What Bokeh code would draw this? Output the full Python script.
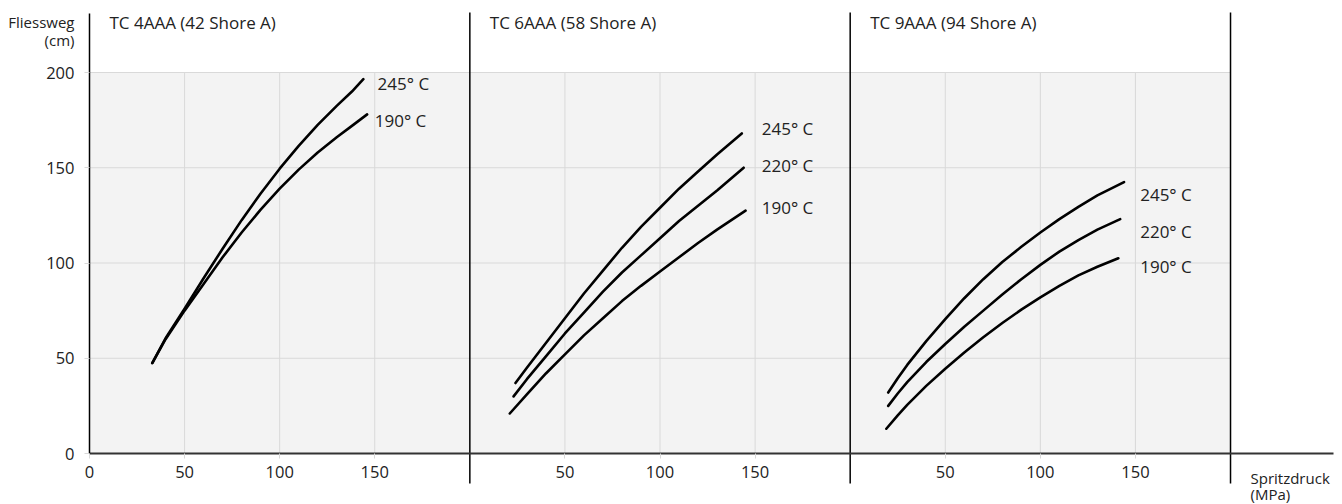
from bokeh.plotting import figure
from bokeh.models import Range1d, FixedTicker, BoxAnnotation, Label, ColumnDataSource
from bokeh.core.properties import value
from bokeh.embed import file_html
from bokeh.resources import INLINE

# ---------------- data ----------------
panel_titles = ["TC 4AAA (42 Shore A)", "TC 6AAA (58 Shore A)", "TC 9AAA (94 Shore A)"]
panel_offsets = [0, 200, 400]
panel_width = 200
x_tick_values = [0, 50, 100, 150, 250, 300, 350, 450, 500, 550]
x_tick_labels = ["0", "50", "100", "150", "50", "100", "150", "50", "100", "150"]
y_tick_values = [0, 50, 100, 150, 200]
y_max = 200

# TC 4AAA
tc4_245_x = [33, 40, 50, 60, 70, 80, 90, 100, 110, 120, 130, 138, 144]
tc4_245_y = [47.5, 60.5, 76, 92, 107.5, 122.5, 136.5, 149.5, 161.5, 172.5, 182.5, 190, 196.5]
tc4_190_x = [33, 40, 50, 60, 70, 80, 90, 100, 110, 120, 130, 138, 146]
tc4_190_y = [47.5, 60, 75, 89, 103, 116, 128, 139, 149, 158, 166, 172, 178]

# TC 6AAA
tc6_245_x = [24, 30, 40, 50, 60, 70, 80, 90, 100, 110, 120, 130, 143]
tc6_245_y = [37, 45, 58, 71, 84, 96, 108, 119, 129, 139, 148, 157, 168]
tc6_220_x = [23, 30, 40, 50, 60, 70, 80, 90, 100, 110, 120, 130, 144]
tc6_220_y = [30, 39, 51, 63, 74, 85, 95, 104, 113, 122, 130, 138, 150]
tc6_190_x = [21, 30, 40, 50, 60, 70, 80, 90, 100, 110, 120, 130, 145]
tc6_190_y = [21, 31, 42, 52, 62, 71, 80, 88, 95.5, 103, 110.5, 117.5, 127.5]

# TC 9AAA
tc9_245_x = [20, 25, 30, 40, 50, 60, 70, 80, 90, 100, 110, 120, 130, 144]
tc9_245_y = [32, 39.5, 46.5, 59, 70.5, 81.5, 91.5, 100.5, 108.5, 116, 123, 129.5, 135.5, 142.5]
tc9_220_x = [20, 25, 30, 40, 50, 60, 70, 80, 90, 100, 110, 120, 130, 142]
tc9_220_y = [25, 31.5, 37.5, 48, 57.5, 66.5, 75, 83.5, 91.5, 99, 106, 112, 117.5, 123]
tc9_190_x = [19, 25, 30, 40, 50, 60, 70, 80, 90, 100, 110, 120, 130, 141]
tc9_190_y = [13, 20, 25.5, 35.5, 44.5, 53, 61, 68.5, 75.5, 82, 88, 93.5, 98, 102.5]

curve_labels = ["245° C", "190° C",
                "245° C", "220° C", "190° C",
                "245° C", "220° C", "190° C"]
curve_panels = [0, 0, 1, 1, 1, 2, 2, 2]
curves_x = [tc4_245_x, tc4_190_x, tc6_245_x, tc6_220_x, tc6_190_x, tc9_245_x, tc9_220_x, tc9_190_x]
curves_y = [tc4_245_y, tc4_190_y, tc6_245_y, tc6_220_y, tc6_190_y, tc9_245_y, tc9_220_y, tc9_190_y]

# label anchors (panel-local)
label_x = [151.5, 150, 153.5, 153.5, 153.5, 152.5, 152.5, 152.5]
label_y = [194, 175, 170.5, 151, 129, 136, 116.5, 98]

# ---------------- layout / style ----------------
W, H = 1342, 504
X0_PX, Y0_PX = 89, 453          # pixel position of the data origin
SX, SY = 1.9017, 1.905          # pixels per unit
FONT = "Open Sans"
TXT = "#222222"
GRID = "#d9d9d9"
BG = "#f3f3f3"

x_start = -X0_PX / SX
x_end = (W - X0_PX) / SX
y_start = -(H - Y0_PX) / SY
y_end = Y0_PX / SY
divider_top = (Y0_PX - 12) / SY
divider_bottom = (Y0_PX - 483) / SY
axis_right = (1333 - X0_PX) / SX

p = figure(width=W, height=H, output_backend="svg", toolbar_location=None,
           x_range=Range1d(x_start, x_end), y_range=Range1d(y_start, y_end),
           min_border_left=0, min_border_right=0, min_border_top=0, min_border_bottom=0)
p.outline_line_color = None
p.background_fill_color = "white"
p.xgrid.grid_line_color = None
p.ygrid.grid_line_color = None

# plotting background
p.add_layout(BoxAnnotation(left=0, right=panel_offsets[-1] + panel_width, bottom=0, top=y_max,
                           fill_color=BG, fill_alpha=1, line_color=None, level="underlay"))

# grid lines
gx = [t for t in x_tick_values if t % panel_width != 0]
p.segment(x0=gx, y0=[0] * len(gx), x1=gx, y1=[y_max] * len(gx), line_color=GRID, line_width=1)
gy = [t for t in y_tick_values if t != 0]
p.segment(x0=[0] * len(gy), y0=gy, x1=[panel_offsets[-1] + panel_width] * len(gy), y1=gy,
          line_color=GRID, line_width=1)

# panel dividers
dx = [o + panel_width for o in panel_offsets]
p.segment(x0=dx, y0=[divider_bottom] * len(dx), x1=dx, y1=[divider_top] * len(dx),
          line_color="black", line_width=1.5)

# curves
for xs, ys, pi in zip(curves_x, curves_y, curve_panels):
    off = panel_offsets[pi]
    p.line([x + off for x in xs], ys, line_color="black", line_width=2.6,
           line_cap="round", line_join="round")

src = ColumnDataSource(dict(
    x=[lx + panel_offsets[pi] for lx, pi in zip(label_x, curve_panels)],
    y=label_y, t=curve_labels))
p.text(x="x", y="y", text="t", source=src, text_font=value(FONT), text_font_size="17px",
       text_color=TXT, text_align="left", text_baseline="middle")

# panel titles
title_y = (Y0_PX - 22) / SY
for title, off in zip(panel_titles, panel_offsets):
    p.add_layout(Label(x=off + 10.5, y=title_y, text=title, text_font=FONT, text_font_size="17px",
                       text_color=TXT, text_align="left", text_baseline="middle"))

# axes (drawn at the data origin)
xa = p.xaxis[0]
xa.fixed_location = 0
xa.bounds = (0, axis_right)
xa.ticker = FixedTicker(ticks=x_tick_values, minor_ticks=[])
xa.major_label_overrides = {v: l for v, l in zip(x_tick_values, x_tick_labels)}
xa.axis_line_color = "#333333"
xa.axis_line_width = 2
xa.major_tick_line_color = GRID
xa.major_tick_out = 5
xa.major_tick_in = 0
xa.major_label_standoff = 7
xa.major_label_text_font = FONT
xa.major_label_text_font_size = "16.5px"
xa.major_label_text_color = TXT

ya = p.yaxis[0]
ya.fixed_location = 0
ya.bounds = (0, (Y0_PX - 13) / SY)
ya.ticker = FixedTicker(ticks=y_tick_values, minor_ticks=[])
ya.axis_line_color = "black"
ya.axis_line_width = 1.5
ya.major_tick_line_color = GRID
ya.major_tick_out = 5
ya.major_tick_in = 0
ya.major_label_standoff = 10
ya.major_label_text_font = FONT
ya.major_label_text_font_size = "16.5px"
ya.major_label_text_color = TXT

# axis titles
ax_left = (74 - X0_PX) / SX
p.add_layout(Label(x=ax_left, y=(Y0_PX - 21) / SY, text="Fliessweg", text_font=FONT,
                   text_font_size="15px", text_color=TXT, text_align="right", text_baseline="middle"))
p.add_layout(Label(x=ax_left, y=(Y0_PX - 39) / SY, text="(cm)", text_font=FONT,
                   text_font_size="15px", text_color=TXT, text_align="right", text_baseline="middle"))
ax_right = (1250 - X0_PX) / SX
p.add_layout(Label(x=ax_right, y=(Y0_PX - 477) / SY, text="Spritzdruck", text_font=FONT,
                   text_font_size="15px", text_color=TXT, text_align="left", text_baseline="middle"))
p.add_layout(Label(x=ax_right, y=(Y0_PX - 493) / SY, text="(MPa)", text_font=FONT,
                   text_font_size="15px", text_color=TXT, text_align="left", text_baseline="middle"))

open("out.html", "w").write(file_html(p, INLINE))
